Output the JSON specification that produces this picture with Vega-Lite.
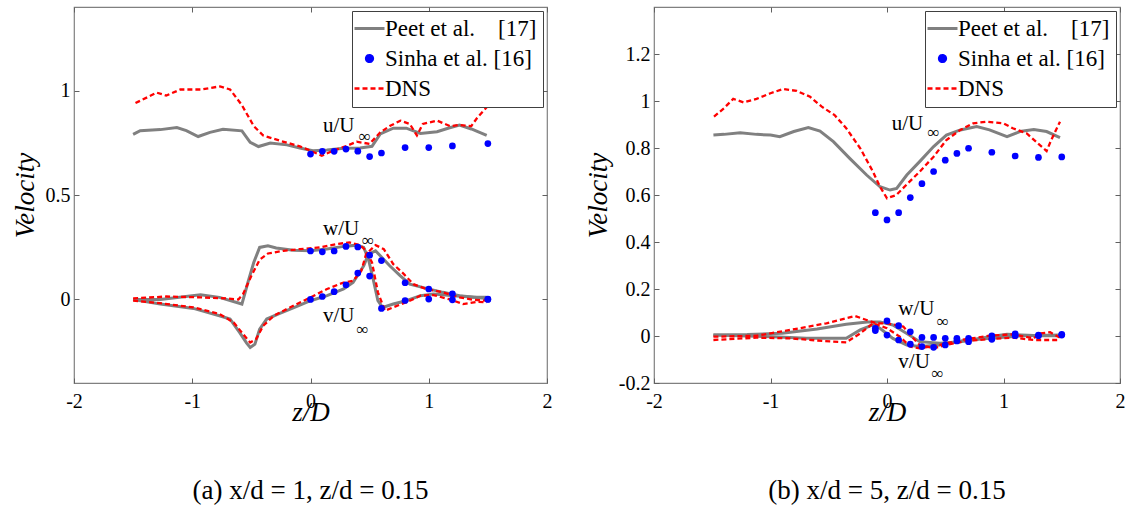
{
 "$schema": "https://vega.github.io/schema/vega-lite/v6.json",
 "background": "white",
 "padding": {"left": 10, "top": 5, "right": 5, "bottom": 0},
 "spacing": 30,
 "config": {
  "font": "Liberation Serif",
  "view": {"stroke": "#808080", "strokeWidth": 1.2},
  "axis": {"labelFont": "Liberation Serif", "titleFont": "Liberation Serif", "labelFontSize": 20, "labelColor": "black", "titleFontStyle": "italic", "titleFontWeight": "normal", "titleFontSize": 27, "titleColor": "black", "domain": false, "ticks": true, "tickSize": -5, "tickColor": "#606060", "labelPadding": 9, "grid": true, "gridColor": "#b8b8b8", "gridDash": [1, 2], "gridWidth": 1, "labelFlush": false, "labelOverlap": false, "labelExpr": "'' + datum.value"},
  "axisX": {"titlePadding": -12, "labelPadding": 13},
  "axisY": {"titlePadding": 6}
 },
 "resolve": {"scale": {"color": "independent"}, "legend": {"color": "independent"}},
 "datasets": {
  "A": [
   {"src":"Peet","c":"u","z":-1.50,"v":0.79},{"src":"Peet","c":"u","z":-1.44,"v":0.808},{"src":"Peet","c":"u","z":-1.27,"v":0.813},{"src":"Peet","c":"u","z":-1.13,"v":0.823},{"src":"Peet","c":"u","z":-1.05,"v":0.808},{"src":"Peet","c":"u","z":-0.95,"v":0.78},{"src":"Peet","c":"u","z":-0.85,"v":0.80},{"src":"Peet","c":"u","z":-0.74,"v":0.815},{"src":"Peet","c":"u","z":-0.58,"v":0.807},{"src":"Peet","c":"u","z":-0.51,"v":0.752},{"src":"Peet","c":"u","z":-0.44,"v":0.732},{"src":"Peet","c":"u","z":-0.34,"v":0.749},{"src":"Peet","c":"u","z":-0.20,"v":0.74},{"src":"Peet","c":"u","z":-0.09,"v":0.725},{"src":"Peet","c":"u","z":0.02,"v":0.712},{"src":"Peet","c":"u","z":0.14,"v":0.716},{"src":"Peet","c":"u","z":0.28,"v":0.724},{"src":"Peet","c":"u","z":0.42,"v":0.725},{"src":"Peet","c":"u","z":0.52,"v":0.733},{"src":"Peet","c":"u","z":0.59,"v":0.792},{"src":"Peet","c":"u","z":0.70,"v":0.82},{"src":"Peet","c":"u","z":0.81,"v":0.82},{"src":"Peet","c":"u","z":0.93,"v":0.795},{"src":"Peet","c":"u","z":1.07,"v":0.803},{"src":"Peet","c":"u","z":1.17,"v":0.821},{"src":"Peet","c":"u","z":1.26,"v":0.835},{"src":"Peet","c":"u","z":1.36,"v":0.816},{"src":"Peet","c":"u","z":1.49,"v":0.785},
   {"src":"DNS","c":"u","z":-1.48,"v":0.94},{"src":"DNS","c":"u","z":-1.30,"v":0.99},{"src":"DNS","c":"u","z":-1.22,"v":0.976},{"src":"DNS","c":"u","z":-1.10,"v":1.005},{"src":"DNS","c":"u","z":-0.93,"v":1.005},{"src":"DNS","c":"u","z":-0.765,"v":1.02},{"src":"DNS","c":"u","z":-0.68,"v":1.005},{"src":"DNS","c":"u","z":-0.58,"v":0.93},{"src":"DNS","c":"u","z":-0.48,"v":0.83},{"src":"DNS","c":"u","z":-0.40,"v":0.785},{"src":"DNS","c":"u","z":-0.26,"v":0.76},{"src":"DNS","c":"u","z":-0.09,"v":0.733},{"src":"DNS","c":"u","z":0.0,"v":0.712},{"src":"DNS","c":"u","z":0.095,"v":0.688},{"src":"DNS","c":"u","z":0.19,"v":0.712},{"src":"DNS","c":"u","z":0.31,"v":0.736},{"src":"DNS","c":"u","z":0.39,"v":0.755},{"src":"DNS","c":"u","z":0.50,"v":0.745},{"src":"DNS","c":"u","z":0.59,"v":0.80},{"src":"DNS","c":"u","z":0.67,"v":0.83},{"src":"DNS","c":"u","z":0.76,"v":0.856},{"src":"DNS","c":"u","z":0.84,"v":0.84},{"src":"DNS","c":"u","z":0.90,"v":0.785},{"src":"DNS","c":"u","z":0.95,"v":0.84},{"src":"DNS","c":"u","z":1.07,"v":0.856},{"src":"DNS","c":"u","z":1.18,"v":0.83},{"src":"DNS","c":"u","z":1.26,"v":0.835},{"src":"DNS","c":"u","z":1.36,"v":0.83},{"src":"DNS","c":"u","z":1.41,"v":0.87},{"src":"DNS","c":"u","z":1.49,"v":0.92},
   {"src":"Sinha","c":"u","z":0.0,"v":0.696},{"src":"Sinha","c":"u","z":0.1,"v":0.709},{"src":"Sinha","c":"u","z":0.2,"v":0.709},{"src":"Sinha","c":"u","z":0.3,"v":0.72},{"src":"Sinha","c":"u","z":0.4,"v":0.71},{"src":"Sinha","c":"u","z":0.5,"v":0.684},{"src":"Sinha","c":"u","z":0.6,"v":0.701},{"src":"Sinha","c":"u","z":0.8,"v":0.727},{"src":"Sinha","c":"u","z":1.0,"v":0.727},{"src":"Sinha","c":"u","z":1.2,"v":0.735},{"src":"Sinha","c":"u","z":1.5,"v":0.746},
   {"src":"Peet","c":"w","z":-1.50,"v":0.0},{"src":"Peet","c":"w","z":-1.27,"v":0.0},{"src":"Peet","c":"w","z":-0.93,"v":0.022},{"src":"Peet","c":"w","z":-0.77,"v":0.01},{"src":"Peet","c":"w","z":-0.58,"v":-0.022},{"src":"Peet","c":"w","z":-0.53,"v":0.08},{"src":"Peet","c":"w","z":-0.48,"v":0.177},{"src":"Peet","c":"w","z":-0.43,"v":0.249},{"src":"Peet","c":"w","z":-0.36,"v":0.257},{"src":"Peet","c":"w","z":-0.29,"v":0.246},{"src":"Peet","c":"w","z":-0.145,"v":0.236},{"src":"Peet","c":"w","z":0.0,"v":0.233},{"src":"Peet","c":"w","z":0.14,"v":0.241},{"src":"Peet","c":"w","z":0.28,"v":0.254},{"src":"Peet","c":"w","z":0.39,"v":0.26},{"src":"Peet","c":"w","z":0.45,"v":0.249},{"src":"Peet","c":"w","z":0.49,"v":0.193},{"src":"Peet","c":"w","z":0.53,"v":0.097},{"src":"Peet","c":"w","z":0.57,"v":-0.006},{"src":"Peet","c":"w","z":0.61,"v":-0.038},{"src":"Peet","c":"w","z":0.70,"v":-0.022},{"src":"Peet","c":"w","z":0.81,"v":-0.006},{"src":"Peet","c":"w","z":0.93,"v":0.018},{"src":"Peet","c":"w","z":1.04,"v":0.026},{"src":"Peet","c":"w","z":1.21,"v":0.018},{"src":"Peet","c":"w","z":1.38,"v":0.01},{"src":"Peet","c":"w","z":1.49,"v":0.01},
   {"src":"Peet","c":"v","z":-1.50,"v":0.0},{"src":"Peet","c":"v","z":-1.27,"v":-0.022},{"src":"Peet","c":"v","z":-0.99,"v":-0.043},{"src":"Peet","c":"v","z":-0.77,"v":-0.078},{"src":"Peet","c":"v","z":-0.68,"v":-0.094},{"src":"Peet","c":"v","z":-0.60,"v":-0.158},{"src":"Peet","c":"v","z":-0.54,"v":-0.209},{"src":"Peet","c":"v","z":-0.51,"v":-0.23},{"src":"Peet","c":"v","z":-0.47,"v":-0.214},{"src":"Peet","c":"v","z":-0.43,"v":-0.142},{"src":"Peet","c":"v","z":-0.37,"v":-0.094},{"src":"Peet","c":"v","z":-0.26,"v":-0.067},{"src":"Peet","c":"v","z":-0.12,"v":-0.034},{"src":"Peet","c":"v","z":0.0,"v":-0.006},{"src":"Peet","c":"v","z":0.14,"v":0.018},{"src":"Peet","c":"v","z":0.28,"v":0.05},{"src":"Peet","c":"v","z":0.36,"v":0.081},{"src":"Peet","c":"v","z":0.45,"v":0.161},{"src":"Peet","c":"v","z":0.49,"v":0.217},{"src":"Peet","c":"v","z":0.55,"v":0.233},{"src":"Peet","c":"v","z":0.59,"v":0.209},{"src":"Peet","c":"v","z":0.67,"v":0.161},{"src":"Peet","c":"v","z":0.76,"v":0.113},{"src":"Peet","c":"v","z":0.84,"v":0.073},{"src":"Peet","c":"v","z":0.98,"v":0.053},{"src":"Peet","c":"v","z":1.12,"v":0.034},{"src":"Peet","c":"v","z":1.26,"v":0.018},{"src":"Peet","c":"v","z":1.49,"v":0.005},
   {"src":"DNS","c":"w","z":-1.50,"v":0.005},{"src":"DNS","c":"w","z":-1.22,"v":0.014},{"src":"DNS","c":"w","z":-0.93,"v":0.01},{"src":"DNS","c":"w","z":-0.71,"v":0.005},{"src":"DNS","c":"w","z":-0.61,"v":0.0},{"src":"DNS","c":"w","z":-0.57,"v":0.026},{"src":"DNS","c":"w","z":-0.50,"v":0.113},{"src":"DNS","c":"w","z":-0.43,"v":0.19},{"src":"DNS","c":"w","z":-0.36,"v":0.22},{"src":"DNS","c":"w","z":-0.23,"v":0.233},{"src":"DNS","c":"w","z":-0.09,"v":0.241},{"src":"DNS","c":"w","z":0.08,"v":0.249},{"src":"DNS","c":"w","z":0.22,"v":0.265},{"src":"DNS","c":"w","z":0.33,"v":0.273},{"src":"DNS","c":"w","z":0.42,"v":0.26},{"src":"DNS","c":"w","z":0.47,"v":0.233},{"src":"DNS","c":"w","z":0.52,"v":0.177},{"src":"DNS","c":"w","z":0.57,"v":0.034},{"src":"DNS","c":"w","z":0.63,"v":-0.054},{"src":"DNS","c":"w","z":0.70,"v":-0.038},{"src":"DNS","c":"w","z":0.84,"v":-0.006},{"src":"DNS","c":"w","z":0.93,"v":0.018},{"src":"DNS","c":"w","z":1.04,"v":0.021},{"src":"DNS","c":"w","z":1.18,"v":0.0},{"src":"DNS","c":"w","z":1.29,"v":-0.022},{"src":"DNS","c":"w","z":1.41,"v":-0.011},{"src":"DNS","c":"w","z":1.49,"v":-0.014},
   {"src":"DNS","c":"v","z":-1.50,"v":-0.006},{"src":"DNS","c":"v","z":-1.27,"v":-0.018},{"src":"DNS","c":"v","z":-0.99,"v":-0.038},{"src":"DNS","c":"v","z":-0.77,"v":-0.07},{"src":"DNS","c":"v","z":-0.65,"v":-0.11},{"src":"DNS","c":"v","z":-0.57,"v":-0.166},{"src":"DNS","c":"v","z":-0.51,"v":-0.206},{"src":"DNS","c":"v","z":-0.46,"v":-0.19},{"src":"DNS","c":"v","z":-0.40,"v":-0.126},{"src":"DNS","c":"v","z":-0.31,"v":-0.078},{"src":"DNS","c":"v","z":-0.145,"v":-0.03},{"src":"DNS","c":"v","z":0.0,"v":0.01},{"src":"DNS","c":"v","z":0.14,"v":0.05},{"src":"DNS","c":"v","z":0.28,"v":0.081},{"src":"DNS","c":"v","z":0.36,"v":0.089},{"src":"DNS","c":"v","z":0.43,"v":0.137},{"src":"DNS","c":"v","z":0.47,"v":0.217},{"src":"DNS","c":"v","z":0.55,"v":0.26},{"src":"DNS","c":"v","z":0.62,"v":0.241},{"src":"DNS","c":"v","z":0.70,"v":0.169},{"src":"DNS","c":"v","z":0.79,"v":0.121},{"src":"DNS","c":"v","z":0.87,"v":0.073},{"src":"DNS","c":"v","z":0.98,"v":0.05},{"src":"DNS","c":"v","z":1.12,"v":0.034},{"src":"DNS","c":"v","z":1.26,"v":0.01},{"src":"DNS","c":"v","z":1.38,"v":-0.002},{"src":"DNS","c":"v","z":1.49,"v":-0.006},
   {"src":"Sinha","c":"w","z":0.0,"v":0.232},{"src":"Sinha","c":"w","z":0.1,"v":0.228},{"src":"Sinha","c":"w","z":0.2,"v":0.232},{"src":"Sinha","c":"w","z":0.3,"v":0.254},{"src":"Sinha","c":"w","z":0.4,"v":0.251},{"src":"Sinha","c":"w","z":0.5,"v":0.212},{"src":"Sinha","c":"w","z":0.6,"v":0.186},{"src":"Sinha","c":"w","z":0.8,"v":0.08},{"src":"Sinha","c":"w","z":1.0,"v":0.05},{"src":"Sinha","c":"w","z":1.2,"v":0.027},{"src":"Sinha","c":"w","z":1.5,"v":0.002},
   {"src":"Sinha","c":"v","z":0.0,"v":0.0},{"src":"Sinha","c":"v","z":0.1,"v":0.014},{"src":"Sinha","c":"v","z":0.2,"v":0.037},{"src":"Sinha","c":"v","z":0.3,"v":0.07},{"src":"Sinha","c":"v","z":0.4,"v":0.126},{"src":"Sinha","c":"v","z":0.5,"v":0.112},{"src":"Sinha","c":"v","z":0.6,"v":-0.043},{"src":"Sinha","c":"v","z":0.8,"v":-0.005},{"src":"Sinha","c":"v","z":1.0,"v":0.002},{"src":"Sinha","c":"v","z":1.2,"v":-0.002},{"src":"Sinha","c":"v","z":1.5,"v":0.0}
  ],
  "B": [
   {"src":"Peet","c":"u","z":-1.49,"v":0.855},{"src":"Peet","c":"u","z":-1.40,"v":0.858},{"src":"Peet","c":"u","z":-1.26,"v":0.865},{"src":"Peet","c":"u","z":-1.12,"v":0.858},{"src":"Peet","c":"u","z":-1.00,"v":0.855},{"src":"Peet","c":"u","z":-0.92,"v":0.848},{"src":"Peet","c":"u","z":-0.80,"v":0.87},{"src":"Peet","c":"u","z":-0.675,"v":0.887},{"src":"Peet","c":"u","z":-0.575,"v":0.872},{"src":"Peet","c":"u","z":-0.46,"v":0.827},{"src":"Peet","c":"u","z":-0.32,"v":0.756},{"src":"Peet","c":"u","z":-0.175,"v":0.685},{"src":"Peet","c":"u","z":-0.06,"v":0.635},{"src":"Peet","c":"u","z":0.026,"v":0.621},{"src":"Peet","c":"u","z":0.083,"v":0.628},{"src":"Peet","c":"u","z":0.17,"v":0.685},{"src":"Peet","c":"u","z":0.28,"v":0.742},{"src":"Peet","c":"u","z":0.40,"v":0.806},{"src":"Peet","c":"u","z":0.51,"v":0.855},{"src":"Peet","c":"u","z":0.63,"v":0.877},{"src":"Peet","c":"u","z":0.77,"v":0.891},{"src":"Peet","c":"u","z":0.88,"v":0.877},{"src":"Peet","c":"u","z":1.03,"v":0.848},{"src":"Peet","c":"u","z":1.14,"v":0.87},{"src":"Peet","c":"u","z":1.26,"v":0.879},{"src":"Peet","c":"u","z":1.37,"v":0.87},{"src":"Peet","c":"u","z":1.485,"v":0.844},
   {"src":"DNS","c":"u","z":-1.485,"v":0.933},{"src":"DNS","c":"u","z":-1.40,"v":0.969},{"src":"DNS","c":"u","z":-1.32,"v":1.009},{"src":"DNS","c":"u","z":-1.23,"v":0.994},{"src":"DNS","c":"u","z":-1.12,"v":1.009},{"src":"DNS","c":"u","z":-1.00,"v":1.033},{"src":"DNS","c":"u","z":-0.89,"v":1.051},{"src":"DNS","c":"u","z":-0.775,"v":1.043},{"src":"DNS","c":"u","z":-0.66,"v":1.018},{"src":"DNS","c":"u","z":-0.56,"v":0.976},{"src":"DNS","c":"u","z":-0.45,"v":0.94},{"src":"DNS","c":"u","z":-0.35,"v":0.884},{"src":"DNS","c":"u","z":-0.23,"v":0.799},{"src":"DNS","c":"u","z":-0.12,"v":0.699},{"src":"DNS","c":"u","z":-0.06,"v":0.635},{"src":"DNS","c":"u","z":0.0,"v":0.586},{"src":"DNS","c":"u","z":0.08,"v":0.60},{"src":"DNS","c":"u","z":0.17,"v":0.645},{"src":"DNS","c":"u","z":0.28,"v":0.699},{"src":"DNS","c":"u","z":0.40,"v":0.763},{"src":"DNS","c":"u","z":0.51,"v":0.834},{"src":"DNS","c":"u","z":0.63,"v":0.877},{"src":"DNS","c":"u","z":0.74,"v":0.905},{"src":"DNS","c":"u","z":0.855,"v":0.912},{"src":"DNS","c":"u","z":1.00,"v":0.905},{"src":"DNS","c":"u","z":1.08,"v":0.884},{"src":"DNS","c":"u","z":1.20,"v":0.862},{"src":"DNS","c":"u","z":1.31,"v":0.813},{"src":"DNS","c":"u","z":1.37,"v":0.787},{"src":"DNS","c":"u","z":1.41,"v":0.834},{"src":"DNS","c":"u","z":1.485,"v":0.912},
   {"src":"Sinha","c":"u","z":-0.1,"v":0.525},{"src":"Sinha","c":"u","z":0.0,"v":0.494},{"src":"Sinha","c":"u","z":0.1,"v":0.525},{"src":"Sinha","c":"u","z":0.2,"v":0.589},{"src":"Sinha","c":"u","z":0.3,"v":0.648},{"src":"Sinha","c":"u","z":0.4,"v":0.70},{"src":"Sinha","c":"u","z":0.5,"v":0.748},{"src":"Sinha","c":"u","z":0.6,"v":0.777},{"src":"Sinha","c":"u","z":0.7,"v":0.799},{"src":"Sinha","c":"u","z":0.9,"v":0.782},{"src":"Sinha","c":"u","z":1.1,"v":0.766},{"src":"Sinha","c":"u","z":1.3,"v":0.76},{"src":"Sinha","c":"u","z":1.5,"v":0.762},
   {"src":"Peet","c":"w","z":-1.49,"v":0.004},{"src":"Peet","c":"w","z":-1.2,"v":0.006},{"src":"Peet","c":"w","z":-0.9,"v":0.012},{"src":"Peet","c":"w","z":-0.6,"v":0.03},{"src":"Peet","c":"w","z":-0.35,"v":0.05},{"src":"Peet","c":"w","z":-0.17,"v":0.06},{"src":"Peet","c":"w","z":-0.06,"v":0.06},{"src":"Peet","c":"w","z":0.05,"v":0.047},{"src":"Peet","c":"w","z":0.17,"v":0.011},{"src":"Peet","c":"w","z":0.28,"v":-0.024},{"src":"Peet","c":"w","z":0.455,"v":-0.031},{"src":"Peet","c":"w","z":0.63,"v":-0.024},{"src":"Peet","c":"w","z":0.88,"v":-0.003},{"src":"Peet","c":"w","z":1.03,"v":0.007},{"src":"Peet","c":"w","z":1.31,"v":0.001},{"src":"Peet","c":"w","z":1.49,"v":0.001},
   {"src":"Peet","c":"v","z":-1.49,"v":0.004},{"src":"Peet","c":"v","z":-0.98,"v":-0.003},{"src":"Peet","c":"v","z":-0.69,"v":-0.01},{"src":"Peet","c":"v","z":-0.35,"v":-0.01},{"src":"Peet","c":"v","z":-0.23,"v":0.026},{"src":"Peet","c":"v","z":-0.12,"v":0.047},{"src":"Peet","c":"v","z":-0.06,"v":0.033},{"src":"Peet","c":"v","z":0.05,"v":-0.01},{"src":"Peet","c":"v","z":0.17,"v":-0.038},{"src":"Peet","c":"v","z":0.28,"v":-0.045},{"src":"Peet","c":"v","z":0.455,"v":-0.038},{"src":"Peet","c":"v","z":0.63,"v":-0.021},{"src":"Peet","c":"v","z":0.88,"v":-0.01},{"src":"Peet","c":"v","z":1.17,"v":0.001},{"src":"Peet","c":"v","z":1.49,"v":0.004},
   {"src":"DNS","c":"w","z":-1.49,"v":-0.003},{"src":"DNS","c":"w","z":-1.12,"v":0.001},{"src":"DNS","c":"w","z":-0.75,"v":0.033},{"src":"DNS","c":"w","z":-0.52,"v":0.054},{"src":"DNS","c":"w","z":-0.275,"v":0.085},{"src":"DNS","c":"w","z":-0.175,"v":0.068},{"src":"DNS","c":"w","z":-0.09,"v":0.054},{"src":"DNS","c":"w","z":0.0,"v":0.054},{"src":"DNS","c":"w","z":0.14,"v":0.04},{"src":"DNS","c":"w","z":0.20,"v":0.004},{"src":"DNS","c":"w","z":0.28,"v":-0.038},{"src":"DNS","c":"w","z":0.40,"v":-0.052},{"src":"DNS","c":"w","z":0.51,"v":-0.038},{"src":"DNS","c":"w","z":0.68,"v":-0.021},{"src":"DNS","c":"w","z":0.88,"v":-0.013},{"src":"DNS","c":"w","z":1.08,"v":-0.007},{"src":"DNS","c":"w","z":1.26,"v":-0.017},{"src":"DNS","c":"w","z":1.485,"v":-0.017},
   {"src":"DNS","c":"v","z":-1.49,"v":-0.017},{"src":"DNS","c":"v","z":-1.12,"v":-0.007},{"src":"DNS","c":"v","z":-0.83,"v":-0.01},{"src":"DNS","c":"v","z":-0.55,"v":-0.021},{"src":"DNS","c":"v","z":-0.35,"v":-0.027},{"src":"DNS","c":"v","z":-0.23,"v":0.011},{"src":"DNS","c":"v","z":-0.12,"v":0.054},{"src":"DNS","c":"v","z":0.0,"v":0.033},{"src":"DNS","c":"v","z":0.11,"v":-0.003},{"src":"DNS","c":"v","z":0.20,"v":-0.045},{"src":"DNS","c":"v","z":0.28,"v":-0.052},{"src":"DNS","c":"v","z":0.455,"v":-0.038},{"src":"DNS","c":"v","z":0.63,"v":-0.017},{"src":"DNS","c":"v","z":0.88,"v":0.001},{"src":"DNS","c":"v","z":1.08,"v":0.007},{"src":"DNS","c":"v","z":1.26,"v":-0.01},{"src":"DNS","c":"v","z":1.31,"v":0.011},{"src":"DNS","c":"v","z":1.40,"v":0.016},{"src":"DNS","c":"v","z":1.485,"v":-0.007},
   {"src":"Sinha","c":"w","z":-0.1,"v":0.033},{"src":"Sinha","c":"w","z":0.0,"v":0.064},{"src":"Sinha","c":"w","z":0.1,"v":0.044},{"src":"Sinha","c":"w","z":0.2,"v":0.018},{"src":"Sinha","c":"w","z":0.3,"v":-0.006},{"src":"Sinha","c":"w","z":0.4,"v":-0.006},{"src":"Sinha","c":"w","z":0.5,"v":-0.01},{"src":"Sinha","c":"w","z":0.6,"v":-0.01},{"src":"Sinha","c":"w","z":0.7,"v":-0.01},{"src":"Sinha","c":"w","z":0.9,"v":0.001},{"src":"Sinha","c":"w","z":1.1,"v":0.009},{"src":"Sinha","c":"w","z":1.3,"v":0.004},{"src":"Sinha","c":"w","z":1.5,"v":0.007},
   {"src":"Sinha","c":"v","z":-0.1,"v":0.023},{"src":"Sinha","c":"v","z":0.0,"v":0.004},{"src":"Sinha","c":"v","z":0.1,"v":-0.017},{"src":"Sinha","c":"v","z":0.2,"v":-0.035},{"src":"Sinha","c":"v","z":0.3,"v":-0.045},{"src":"Sinha","c":"v","z":0.4,"v":-0.048},{"src":"Sinha","c":"v","z":0.5,"v":-0.038},{"src":"Sinha","c":"v","z":0.6,"v":-0.021},{"src":"Sinha","c":"v","z":0.7,"v":-0.024},{"src":"Sinha","c":"v","z":0.9,"v":-0.014},{"src":"Sinha","c":"v","z":1.1,"v":0.001},{"src":"Sinha","c":"v","z":1.3,"v":0.001},{"src":"Sinha","c":"v","z":1.5,"v":0.004}
  ],
  "LA": [
   {"z":0.106,"v":0.80,"label":"u/U"},{"z":0.46,"v":0.776,"label":"∞"},
   {"z":0.106,"v":0.307,"label":"w/U"},{"z":0.486,"v":0.278,"label":"∞"},
   {"z":0.106,"v":-0.11,"label":"v/U"},{"z":0.44,"v":-0.144,"label":"∞"}
  ],
  "LB": [
   {"z":0.04,"v":0.877,"label":"u/U"},{"z":0.40,"v":0.865,"label":"∞"},
   {"z":0.097,"v":0.089,"label":"w/U"},{"z":0.48,"v":0.061,"label":"∞"},
   {"z":0.097,"v":-0.138,"label":"v/U"},{"z":0.435,"v":-0.163,"label":"∞"}
  ]
 },
 "hconcat": [
  {
   "width": 473, "height": 376,
   "title": {"text": "(a) x/d = 1, z/d = 0.15", "orient": "bottom", "anchor": "middle", "offset": 53, "font": "Liberation Serif", "fontSize": 27, "fontWeight": "normal", "color": "black"},
   "data": {"name": "A"},
   "resolve": {"axis": {"x": "independent", "y": "independent"}},
   "layer": [
    {"mark": {"type": "point", "opacity": 0},
     "encoding": {
      "x": {"field": "z", "type": "quantitative", "scale": {"domain": [-2, 2], "nice": false, "zero": false}, "axis": {"orient": "top", "values": [-2, -1, 0, 1, 2], "labels": false, "grid": false, "title": null}},
      "y": {"field": "v", "type": "quantitative", "scale": {"domain": [-0.4, 1.4], "nice": false, "zero": false}, "axis": {"orient": "right", "values": [0, 0.5, 1], "labels": false, "grid": false, "title": null}}}},
    {"transform": [{"filter": "datum.src === 'Peet'"}], "mark": {"type": "line", "strokeWidth": 3},
     "encoding": {
      "x": {"field": "z", "type": "quantitative", "scale": {"domain": [-2, 2], "nice": false, "zero": false}, "axis": {"title": "z/D", "values": [-2, -1, 0, 1, 2]}},
      "y": {"field": "v", "type": "quantitative", "scale": {"domain": [-0.4, 1.4], "nice": false, "zero": false}, "axis": {"title": "Velocity", "values": [0, 0.5, 1]}},
      "detail": {"field": "c"}, "color": {"field": "src", "type": "nominal", "scale": {"domain": ["Peet", "Sinha", "DNS"], "range": ["#808080", "#0000ff", "#ff0000"]},
      "legend": {"title": null, "orient": "top-right", "offset": 4, "fillColor": "white", "strokeColor": "#404040", "padding": 6, "labelFont": "Liberation Serif", "labelFontSize": 23, "labelColor": "black", "rowPadding": 6, "symbolSize": 900, "symbolStrokeWidth": 3, "labelExpr": "datum.value === 'Peet' ? 'Peet et al.\u00a0\u00a0\u00a0\u00a0[17]' : datum.value === 'Sinha' ? 'Sinha et al. [16]' : 'DNS'",
       "encode": {"symbols": {"update": {
        "shape": {"signal": "datum.value === 'Sinha' ? 'circle' : 'stroke'"},
        "size": {"signal": "datum.value === 'Sinha' ? 45 : 900"},
        "fill": {"signal": "datum.value === 'Sinha' ? '#0000ff' : 'transparent'"},
        "stroke": {"signal": "datum.value === 'Peet' ? '#808080' : datum.value === 'DNS' ? '#ff0000' : 'transparent'"},
        "strokeWidth": {"signal": "datum.value === 'Peet' ? 3 : 2.5"},
        "strokeDash": {"signal": "datum.value === 'DNS' ? [5, 3] : [1, 0]"},
        "opacity": {"value": 1}
       }}}}}}},
    {"transform": [{"filter": "datum.src === 'DNS'"}], "mark": {"type": "line", "strokeWidth": 2.3, "strokeDash": [5, 3]},
     "encoding": {"x": {"field": "z", "type": "quantitative", "scale": {"domain": [-2, 2], "nice": false, "zero": false}, "axis": null}, "y": {"field": "v", "type": "quantitative", "scale": {"domain": [-0.4, 1.4], "nice": false, "zero": false}, "axis": null}, "detail": {"field": "c"}, "color": {"field": "src", "type": "nominal"}}},
    {"transform": [{"filter": "datum.src === 'Sinha'"}], "mark": {"type": "circle", "size": 45, "opacity": 1},
     "encoding": {"x": {"field": "z", "type": "quantitative", "scale": {"domain": [-2, 2], "nice": false, "zero": false}, "axis": null}, "y": {"field": "v", "type": "quantitative", "scale": {"domain": [-0.4, 1.4], "nice": false, "zero": false}, "axis": null}, "color": {"field": "src", "type": "nominal"}}},
    {"data": {"name": "LA"}, "transform": [{"filter": "datum.label !== '∞'"}], "mark": {"type": "text", "align": "left", "baseline": "alphabetic", "font": "Liberation Serif", "fontSize": 21, "color": "black"},
     "encoding": {"x": {"field": "z", "type": "quantitative", "scale": {"domain": [-2, 2], "nice": false, "zero": false}, "axis": null}, "y": {"field": "v", "type": "quantitative", "scale": {"domain": [-0.4, 1.4], "nice": false, "zero": false}, "axis": null}, "text": {"field": "label"}}},
    {"data": {"name": "LA"}, "transform": [{"filter": "datum.label === '∞'"}], "mark": {"type": "text", "align": "center", "baseline": "middle", "font": "Liberation Serif", "fontSize": 17, "color": "black"},
     "encoding": {"x": {"field": "z", "type": "quantitative", "scale": {"domain": [-2, 2], "nice": false, "zero": false}, "axis": null}, "y": {"field": "v", "type": "quantitative", "scale": {"domain": [-0.4, 1.4], "nice": false, "zero": false}, "axis": null}, "text": {"field": "label"}}}
   ]
  },
  {
   "width": 466, "height": 376,
   "title": {"text": "(b) x/d = 5, z/d = 0.15", "orient": "bottom", "anchor": "middle", "offset": 53, "font": "Liberation Serif", "fontSize": 27, "fontWeight": "normal", "color": "black"},
   "data": {"name": "B"},
   "resolve": {"axis": {"x": "independent", "y": "independent"}},
   "layer": [
    {"mark": {"type": "point", "opacity": 0},
     "encoding": {
      "x": {"field": "z", "type": "quantitative", "scale": {"domain": [-2, 2], "nice": false, "zero": false}, "axis": {"orient": "top", "values": [-2, -1, 0, 1, 2], "labels": false, "grid": false, "title": null}},
      "y": {"field": "v", "type": "quantitative", "scale": {"domain": [-0.2, 1.4], "nice": false, "zero": false}, "axis": {"orient": "right", "values": [-0.2, 0, 0.2, 0.4, 0.6, 0.8, 1, 1.2], "labels": false, "grid": false, "title": null}}}},
    {"transform": [{"filter": "datum.src === 'Peet'"}], "mark": {"type": "line", "strokeWidth": 3},
     "encoding": {
      "x": {"field": "z", "type": "quantitative", "scale": {"domain": [-2, 2], "nice": false, "zero": false}, "axis": {"title": "z/D", "values": [-2, -1, 0, 1, 2]}},
      "y": {"field": "v", "type": "quantitative", "scale": {"domain": [-0.2, 1.4], "nice": false, "zero": false}, "axis": {"title": "Velocity", "values": [-0.2, 0, 0.2, 0.4, 0.6, 0.8, 1, 1.2]}},
      "detail": {"field": "c"}, "color": {"field": "src", "type": "nominal", "scale": {"domain": ["Peet", "Sinha", "DNS"], "range": ["#808080", "#0000ff", "#ff0000"]},
      "legend": {"title": null, "orient": "top-right", "offset": 4, "fillColor": "white", "strokeColor": "#404040", "padding": 6, "labelFont": "Liberation Serif", "labelFontSize": 23, "labelColor": "black", "rowPadding": 6, "symbolSize": 900, "symbolStrokeWidth": 3, "labelExpr": "datum.value === 'Peet' ? 'Peet et al.\u00a0\u00a0\u00a0\u00a0[17]' : datum.value === 'Sinha' ? 'Sinha et al. [16]' : 'DNS'",
       "encode": {"symbols": {"update": {
        "shape": {"signal": "datum.value === 'Sinha' ? 'circle' : 'stroke'"},
        "size": {"signal": "datum.value === 'Sinha' ? 45 : 900"},
        "fill": {"signal": "datum.value === 'Sinha' ? '#0000ff' : 'transparent'"},
        "stroke": {"signal": "datum.value === 'Peet' ? '#808080' : datum.value === 'DNS' ? '#ff0000' : 'transparent'"},
        "strokeWidth": {"signal": "datum.value === 'Peet' ? 3 : 2.5"},
        "strokeDash": {"signal": "datum.value === 'DNS' ? [5, 3] : [1, 0]"},
        "opacity": {"value": 1}
       }}}}}}},
    {"transform": [{"filter": "datum.src === 'DNS'"}], "mark": {"type": "line", "strokeWidth": 2.3, "strokeDash": [5, 3]},
     "encoding": {"x": {"field": "z", "type": "quantitative", "scale": {"domain": [-2, 2], "nice": false, "zero": false}, "axis": null}, "y": {"field": "v", "type": "quantitative", "scale": {"domain": [-0.2, 1.4], "nice": false, "zero": false}, "axis": null}, "detail": {"field": "c"}, "color": {"field": "src", "type": "nominal"}}},
    {"transform": [{"filter": "datum.src === 'Sinha'"}], "mark": {"type": "circle", "size": 45, "opacity": 1},
     "encoding": {"x": {"field": "z", "type": "quantitative", "scale": {"domain": [-2, 2], "nice": false, "zero": false}, "axis": null}, "y": {"field": "v", "type": "quantitative", "scale": {"domain": [-0.2, 1.4], "nice": false, "zero": false}, "axis": null}, "color": {"field": "src", "type": "nominal"}}},
    {"data": {"name": "LB"}, "transform": [{"filter": "datum.label !== '∞'"}], "mark": {"type": "text", "align": "left", "baseline": "alphabetic", "font": "Liberation Serif", "fontSize": 21, "color": "black"},
     "encoding": {"x": {"field": "z", "type": "quantitative", "scale": {"domain": [-2, 2], "nice": false, "zero": false}, "axis": null}, "y": {"field": "v", "type": "quantitative", "scale": {"domain": [-0.2, 1.4], "nice": false, "zero": false}, "axis": null}, "text": {"field": "label"}}},
    {"data": {"name": "LB"}, "transform": [{"filter": "datum.label === '∞'"}], "mark": {"type": "text", "align": "center", "baseline": "middle", "font": "Liberation Serif", "fontSize": 17, "color": "black"},
     "encoding": {"x": {"field": "z", "type": "quantitative", "scale": {"domain": [-2, 2], "nice": false, "zero": false}, "axis": null}, "y": {"field": "v", "type": "quantitative", "scale": {"domain": [-0.2, 1.4], "nice": false, "zero": false}, "axis": null}, "text": {"field": "label"}}}
   ]
  }
 ]
}
